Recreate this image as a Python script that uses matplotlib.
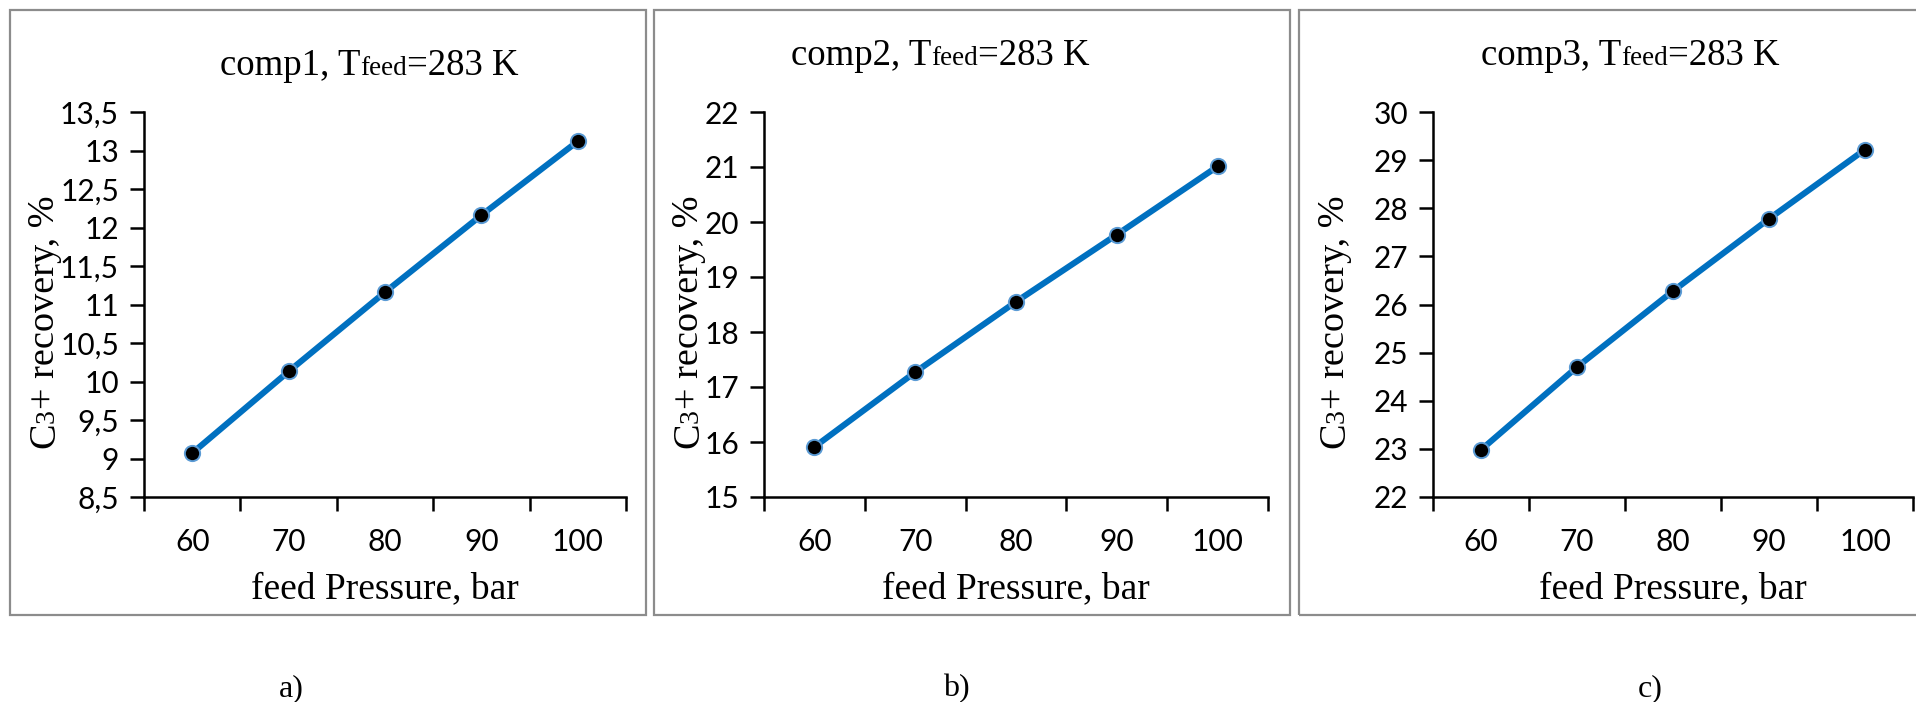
import numpy as np
import matplotlib
matplotlib.use('Agg')
import matplotlib.pyplot as plt
from matplotlib.patches import Rectangle
from matplotlib.ticker import FixedLocator, FuncFormatter

# feed pressure (bar) and C3+ recovery (%) for the three compositions
pressure = [60, 70, 80, 90, 100]
rec_comp1 = [9.07, 10.13, 11.16, 12.16, 13.12]
rec_comp2 = [15.91, 17.27, 18.55, 19.77, 21.01]
rec_comp3 = [22.98, 24.70, 26.28, 27.78, 29.22]
comp_names = ['comp1', 'comp2', 'comp3']
panel_tags = ['a)', 'b)', 'c)']
ylims = [(8.5, 13.5, 0.5), (15, 22, 1), (22, 30, 1)]

W, H = 1916, 702
SERIF = 'Liberation Serif'
TICKFONT = 'Lato'

fig = plt.figure(figsize=(W/100, H/100), dpi=100)
renderer = fig.canvas.get_renderer()

def px(x0, y0, x1, y1):
    # pixel box (from top-left) -> figure fraction rect
    return [x0/W, 1-y1/H, (x1-x0)/W, (y1-y0)/H]

def rich_text(center, base, parts, rotation=0):
    # text made of pieces of different sizes sharing one baseline
    widths = []
    for s, size in parts:
        t = fig.text(0, 0, s, fontsize=size, family=SERIF)
        widths.append(t.get_window_extent(renderer).width)
        t.remove()
    total = sum(widths)
    if rotation == 0:
        pos = center - total/2
        for (s, size), w in zip(parts, widths):
            fig.text(pos/W, 1-base/H, s, fontsize=size, family=SERIF,
                     ha='left', va='baseline')
            pos += w
    else:
        # reads bottom to top, pixel rows counted from the top
        pos = center + total/2
        for (s, size), w in zip(parts, widths):
            fig.text(base/W, 1-pos/H, s, fontsize=size, family=SERIF,
                     ha='left', va='baseline', rotation=90, rotation_mode='anchor')
            pos -= w

frames = [(10, 646), (654, 1290), (1299, 1935)]
axes_px = [(144, 626), (764, 1268), (1433, 1913)]
title_pos = [(369, 75), (940, 65), (1630, 65)]
ylab_x = [54, 698, 1344]
tag_x = [291, 956, 1650]
series = [rec_comp1, rec_comp2, rec_comp3]
top, bottom = 112, 497

for i in range(3):
    fx0, fx1 = frames[i]
    fig.patches.append(Rectangle((fx0/W, 1-615/H), (fx1-fx0)/W, (615-10)/H,
                                 transform=fig.transFigure, fill=False,
                                 edgecolor='#8c8c8c', lw=1.6, clip_on=False))
    ax0, ax1 = axes_px[i]
    ax = fig.add_axes(px(ax0, top, ax1, bottom))
    xs = np.arange(len(pressure))
    ax.plot(xs, series[i], '-o', color='#0070C0', lw=4.4, ms=11,
            mfc='black', mec='#5B9BD5', mew=1.4, zorder=3)
    lo, hi, step = ylims[i]
    ax.set_ylim(lo, hi)
    ax.set_xlim(-0.5, len(pressure)-0.5)
    ax.yaxis.set_major_locator(FixedLocator(np.arange(lo, hi+step/2, step)))
    ax.yaxis.set_major_formatter(FuncFormatter(lambda v, p: f'{v:g}'.replace('.', ',')))
    ax.xaxis.set_major_locator(FixedLocator(np.arange(-0.5, len(pressure), 1)))
    ax.xaxis.set_minor_locator(FixedLocator(xs))
    ax.set_xticklabels([])
    ax.set_xticklabels([str(p) for p in pressure], minor=True)
    ax.tick_params(axis='x', which='major', length=10, width=1.8, direction='out')
    ax.tick_params(axis='x', which='minor', length=0, pad=22)
    ax.tick_params(axis='y', length=10, width=1.8, direction='out', pad=8)
    for lab in ax.get_xticklabels(minor=True) + ax.get_yticklabels():
        lab.set_family(TICKFONT)
        lab.set_fontsize(21.5)
    for side in ['top', 'right']:
        ax.spines[side].set_visible(False)
    for side in ['left', 'bottom']:
        ax.spines[side].set_linewidth(1.8)

    fig.text((ax0+ax1)/2/W, 1-598/H, 'feed Pressure, bar', family=SERIF,
             fontsize=27, ha='center', va='baseline')
    tx, tb = title_pos[i]
    rich_text(tx, tb, [(comp_names[i] + ', T', 26.5), ('feed', 19.5), ('=283 K', 26.5)])
    rich_text(322, ylab_x[i], [('C', 27.5), ('3', 20), ('+ recovery, %', 27.5)],
              rotation=90)
    fig.text(tag_x[i]/W, 1-689/H, panel_tags[i], family=SERIF, fontsize=23,
             ha='center', va='center')

fig.savefig('out.png', dpi=100)
